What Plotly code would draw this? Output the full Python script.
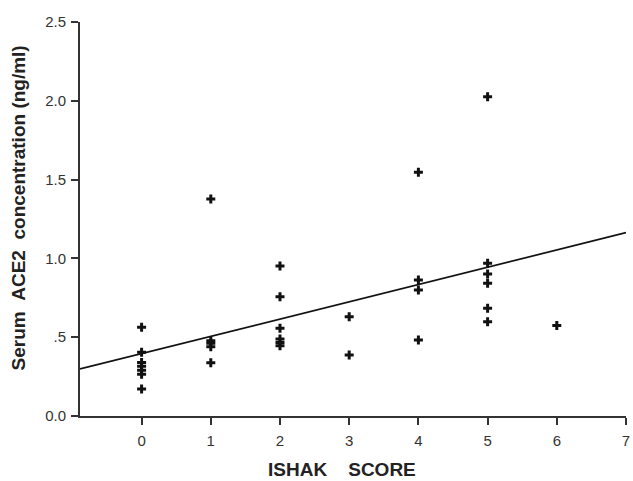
import plotly.graph_objects as go

# Data
ishak = [0, 0, 0, 0, 0, 0, 0,
         1, 1, 1, 1, 1,
         2, 2, 2, 2, 2, 2,
         3, 3,
         4, 4, 4, 4,
         5, 5, 5, 5, 5, 5,
         6]
ace2 = [0.563, 0.404, 0.340, 0.315, 0.290, 0.265, 0.171,
        1.377, 0.478, 0.461, 0.440, 0.338,
        0.952, 0.757, 0.556, 0.489, 0.466, 0.446,
        0.630, 0.387,
        1.546, 0.863, 0.800, 0.482,
        2.025, 0.969, 0.901, 0.842, 0.683, 0.598,
        0.575]

fit_intercept = 0.396
fit_slope = 0.1096
x_range = [-0.89, 7.0]

y_ticks = [0, 0.5, 1.0, 1.5, 2.0, 2.5]
y_ticklabels = ["0.0", ".5", "1.0", "1.5", "2.0", "2.5"]
x_ticks = [0, 1, 2, 3, 4, 5, 6, 7]

ML, MR, MT, MB = 80, 3, 22, 65
W, H = 633, 481

fig = go.Figure()
fig.add_trace(go.Scatter(
    x=x_range,
    y=[fit_intercept + fit_slope * v for v in x_range],
    mode="lines",
    line=dict(color="#111111", width=1.7),
    hoverinfo="skip",
    showlegend=False,
))
fig.add_trace(go.Scatter(
    x=ishak, y=ace2, mode="markers",
    marker=dict(symbol="cross", size=7.5, color="#111111", line=dict(width=0)),
    showlegend=False,
))

font_family = "Liberation Sans, Arial, sans-serif"
axis_common = dict(
    showgrid=False, zeroline=False, showline=True, linecolor="#333333", linewidth=1.8,
    ticks="outside", ticklen=7, tickwidth=1.5, tickcolor="#333333",
    tickfont=dict(size=15, color="#333333"),
    ticklabeloverflow="allow",
)
fig.update_layout(
    width=W, height=H,
    margin=dict(l=ML, r=MR, t=MT, b=MB),
    paper_bgcolor="white", plot_bgcolor="white",
    font=dict(family=font_family, size=15, color="#333333"),
    xaxis=dict(range=x_range, tickvals=x_ticks, ticktext=[str(v) for v in x_ticks],
               ticklabelstandoff=3, **axis_common),
    yaxis=dict(range=[0, 2.5], tickvals=y_ticks, ticktext=y_ticklabels,
               ticklabelstandoff=2, **axis_common),
    annotations=[
        dict(text="<b>ISHAK&nbsp;&nbsp;&nbsp;&nbsp;SCORE</b>", x=344, y=482, yanchor="bottom",
             showarrow=False, font=dict(size=19, color="#222222", family=font_family)),
        dict(text="<b>Serum&nbsp;&nbsp;ACE2&nbsp;&nbsp;concentration (ng/ml)</b>", x=18, y=208,
             textangle=-90, yanchor="middle",
             showarrow=False, font=dict(size=19, color="#222222", family=font_family)),
    ],
)

# convert pixel positions of annotations to paper coords
pw = W - ML - MR
ph = H - MT - MB
for a in fig.layout.annotations:
    a.xref = "paper"
    a.yref = "paper"
    a.x = (a.x - ML) / pw
    a.y = (H - MB - a.y) / ph
    a.xanchor = "center"

fig.write_html("out.html")
